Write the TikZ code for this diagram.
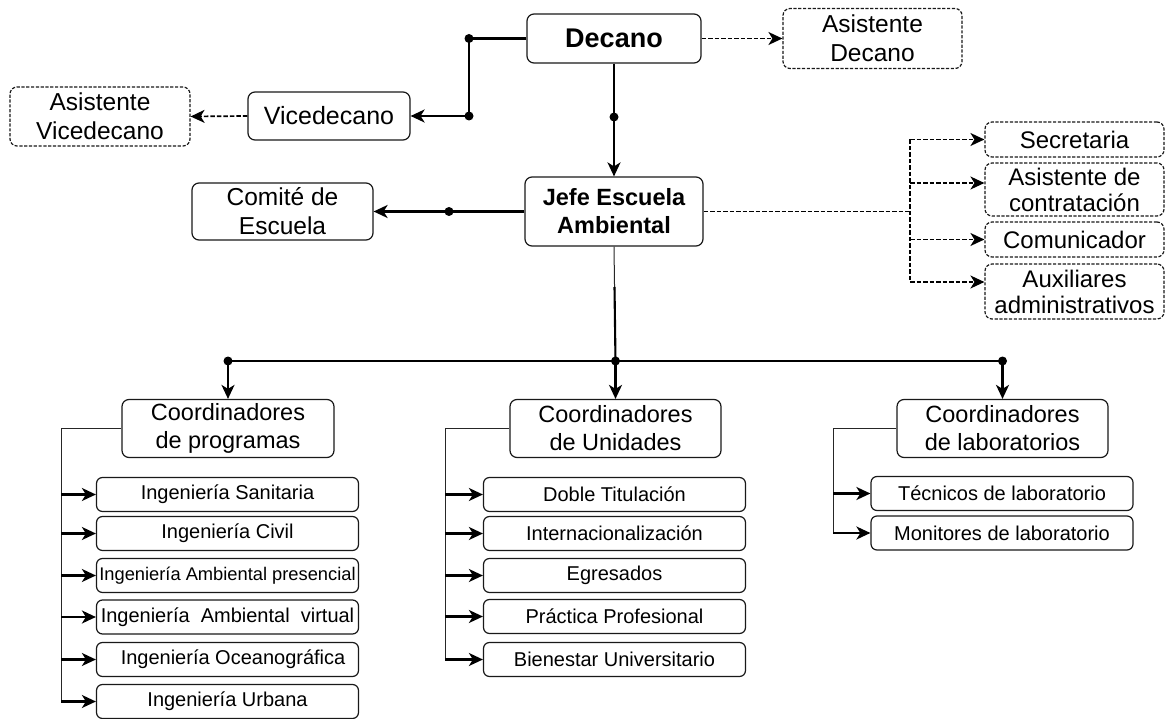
\documentclass[tikz,border=0pt]{standalone}
\usepackage{fontspec}
\setmainfont{Liberation Sans}
\usetikzlibrary{arrows.meta}
\begin{document}
\begin{tikzpicture}[x=1pt,y=-1pt,
  box/.style={draw=black!90, line width=1.2pt, rounded corners=7pt, align=center, inner sep=0pt,
    font=\fontsize{23.5}{27}\selectfont},
  dbox/.style={box, dash pattern=on 3.2pt off 1.6pt},
  sub/.style={box, minimum width=262pt, minimum height=34pt, rounded corners=6pt, font=\fontsize{20}{24}\selectfont},
  arrowtip/.style={arrows={-Stealth[length=14pt,width=13pt,inset=4pt]}},
  conn/.style={line width=2.1pt, black, arrowtip},
  dconn/.style={line width=1.7pt, black, dash pattern=on 4.5pt off 2pt, arrowtip},
  dline/.style={line width=1.7pt, black, dash pattern=on 4.5pt off 2pt},
  thline/.style={line width=2.1pt, black},
  thinline/.style={line width=1pt, black!85},
  dot/.style={circle, fill=black, inner sep=0pt, minimum size=9pt}
]
\useasboundingbox (0,0) rectangle (1167,719);

% top level
\node[box, minimum width=174pt, minimum height=49pt, font=\bfseries\fontsize{27}{30}\selectfont] (decano) at (614,38.5) {Decano};
\node[dbox, minimum width=179pt, minimum height=60pt, font=\fontsize{24.5}{29}\selectfont] (asisdec) at (872.5,38.5) {Asistente\\Decano};
\node[box, minimum width=162pt, minimum height=48pt, font=\fontsize{25}{28}\selectfont] (vice) at (329,116) {Vicedecano};
\node[dbox, minimum width=180pt, minimum height=59pt, font=\fontsize{24.5}{29}\selectfont] (asisvice) at (100,116.5) {Asistente\\Vicedecano};
\node[box, minimum width=178pt, minimum height=69pt, font=\bfseries\fontsize{23.5}{28}\selectfont] (jefe) at (614,211.5) {Jefe Escuela\\Ambiental};
\node[box, minimum width=181pt, minimum height=57pt, font=\fontsize{24.5}{29}\selectfont] (comite) at (282.5,211.5) {Comité de\\Escuela};

% right staff
\node[dbox, minimum width=179pt, minimum height=35pt, font=\fontsize{24}{26}\selectfont] (secre) at (1074.5,139.5) {Secretaria};
\node[dbox, minimum width=179pt, minimum height=53pt, font=\fontsize{24}{26}\selectfont] (asiscon) at (1074.5,189.5) {Asistente de\\contratación};
\node[dbox, minimum width=179pt, minimum height=35pt, font=\fontsize{24}{26}\selectfont] (comu) at (1074.5,239.5) {Comunicador};
\node[dbox, minimum width=179pt, minimum height=55pt, font=\fontsize{24}{26}\selectfont] (aux) at (1074.5,291.5) {Auxiliares\\administrativos};

% coordinators
\node[box, minimum width=212pt, minimum height=58pt, font=\fontsize{23.5}{28}\selectfont] (cprog) at (228,428.5) {Coordinadores\\de programas};
\node[box, minimum width=211pt, minimum height=58pt, font=\fontsize{23.5}{28}\selectfont] (cunid) at (615.5,428.5) {Coordinadores\\de Unidades};
\node[box, minimum width=211pt, minimum height=58pt, font=\fontsize{23.5}{28}\selectfont] (clab) at (1002.5,428.5) {Coordinadores\\de laboratorios};

% sub items left
\node[sub] (p1) at (227.5,494.5) {Ingeniería Sanitaria};
\node[sub] (p2) at (227.5,533.5) {Ingeniería Civil};
\node[sub, font=\fontsize{18.3}{22}\selectfont] (p3) at (227.5,575.5) {Ingeniería Ambiental presencial};
\node[sub] (p4) at (227.5,617) {Ingeniería\ \ Ambiental\ \ virtual};
\node[sub] (p5) at (227.5,659.5) {\ \ Ingeniería Oceanográfica};
\node[sub] (p6) at (227.5,701.5) {Ingeniería Urbana};

% sub items middle
\node[sub] (u1) at (614.5,494.5) {Doble Titulación};
\node[sub] (u2) at (614.5,533.5) {Internacionalización};
\node[sub] (u3) at (614.5,575.5) {Egresados};
\node[sub] (u4) at (614.5,616.5) {Práctica Profesional};
\node[sub] (u5) at (614.5,659.5) {Bienestar Universitario};

% sub items right
\node[sub] (l1) at (1002,493.5) {Técnicos de laboratorio};
\node[sub] (l2) at (1002,533) {Monitores de laboratorio};

% junction coordinates
\coordinate (jx) at (469,0);
\coordinate (rx) at (910,0);
\coordinate (lx) at (61,0);
\coordinate (mx) at (445,0);
\coordinate (kx) at (833,0);
\coordinate (busy) at (0,361);
\coordinate (b1) at (cprog.north |- busy);
\coordinate (b2) at (cunid.north |- busy);
\coordinate (b3) at (clab.north |- busy);

% Decano -> Vicedecano
\draw[conn] (decano.west) -- (decano.west -| jx) -- (vice.east -| jx) -- (vice.east);
\node[dot] (d1) at (decano.west -| jx) {};
\node[dot] (d2) at (vice.east -| jx) {};
\draw[dconn] (vice.west) -- (asisvice.east);
\draw[dconn] (decano.east) -- (asisdec.west);

% Decano -> Jefe
\draw[conn] (decano.south) -- (jefe.north);
\node[dot] (d3) at (614,117) {};

% Jefe -> Comite
\draw[conn] (jefe.west) -- (comite.east);
\node[dot] (d4) at (449,211.5) {};

% Jefe -> staff (dashed)
\draw[dline] (jefe.east) -- (jefe.east -| rx);
\draw[dline] (secre.west -| rx) -- ([yshift=9.5pt]aux.west -| rx);
\draw[dconn] (secre.west -| rx) -- (secre.west);
\draw[dconn] ([yshift=6.5pt]asiscon.west -| rx) -- ([yshift=6.5pt]asiscon.west);
\draw[dconn] (comu.west -| rx) -- (comu.west);
\draw[dconn] ([yshift=9.5pt]aux.west -| rx) -- ([yshift=9.5pt]aux.west);

% Jefe -> bus
\draw[thinline] (jefe.south) -- (b2);
\draw[thline] (614.5,287) -- (b2);
\draw[thline] (b1) -- (b3);
\node[dot] at (b1) {};
\node[dot] at (b2) {};
\node[dot] at (b3) {};
\draw[conn] (b1) -- (cprog.north);
\draw[conn] (b2) -- (cunid.north);
\draw[conn] (b3) -- (clab.north);

% programas
\draw[thinline] (cprog.west) -- (cprog.west -| lx) -- (p6.west -| lx);
\foreach \n in {p1,p2,p3,p4,p5,p6}{\draw[conn] (\n.west -| lx) -- (\n.west);}
% unidades
\draw[thinline] (cunid.west) -- (cunid.west -| mx) -- (u5.west -| mx);
\foreach \n in {u1,u2,u3,u4,u5}{\draw[conn] (\n.west -| mx) -- (\n.west);}
% laboratorios
\draw[thinline] (clab.west) -- (clab.west -| kx) -- (l2.west -| kx);
\foreach \n in {l1,l2}{\draw[conn] (\n.west -| kx) -- (\n.west);}
\end{tikzpicture}
\end{document}
